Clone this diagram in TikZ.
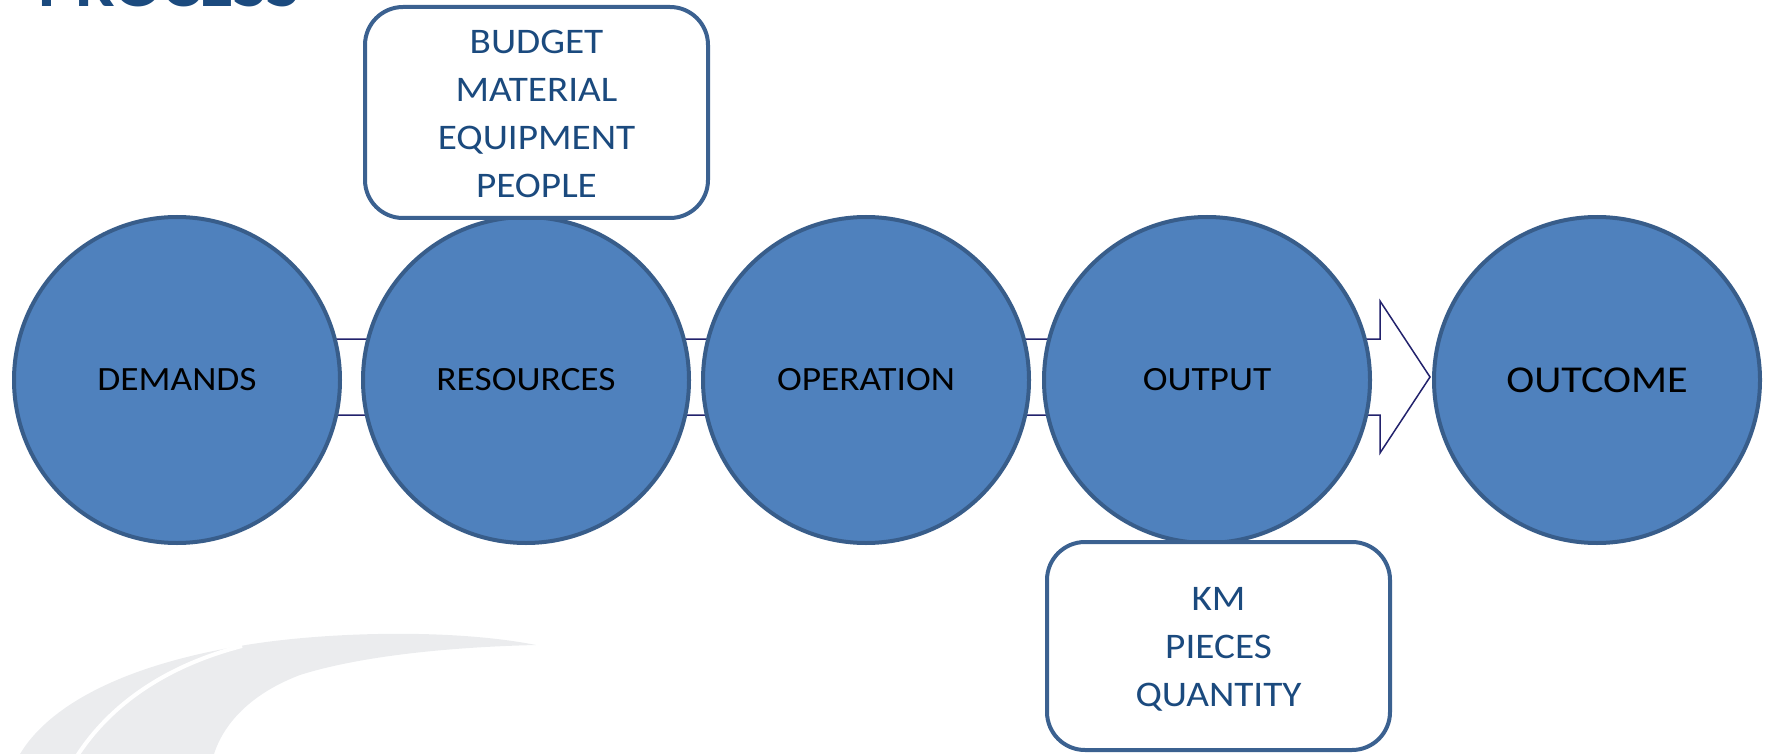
\documentclass[tikz,border=0pt]{standalone}
\usepackage{fontspec}
\setmainfont{Carlito}
\newfontfamily\circfont[FakeStretch=1.1]{Carlito}
\newfontfamily\outfont[FakeStretch=1.11]{Carlito}
\newfontfamily\boxfont[FakeStretch=1.09]{Carlito}
\newfontfamily\titlefont[FakeStretch=1.1]{Carlito}
\usetikzlibrary{backgrounds,calc}
\definecolor{circfill}{HTML}{4F81BD}
\definecolor{circline}{HTML}{385D8A}
\definecolor{boxline}{HTML}{3B6190}
\definecolor{boxtext}{HTML}{1B4A7E}
\definecolor{arrowline}{HTML}{22226C}
\definecolor{swoosh}{HTML}{EBECEE}
\begin{document}
\begin{tikzpicture}[x=1pt,y=-1pt,
  proc/.style={circle, draw=circline, line width=4pt, fill=circfill,
    minimum size=326pt, inner sep=0pt, text=black,
    font=\circfont\fontsize{34}{40}\selectfont},
  infobox/.style={rectangle, rounded corners=38pt, draw=boxline, line width=4pt,
    fill=white, minimum width=343pt, minimum height=211pt, inner sep=0pt},
  boxlabel/.style={inner sep=0pt, align=center, text=boxtext,
    font=\boxfont\fontsize{36}{48}\selectfont},
  blockarrow/.style={draw=arrowline, line width=1.5pt, fill=white, line join=miter},
  swooshfill/.style={fill=swoosh, draw=none}]
\useasboundingbox (0,0) rectangle (1769,754);
\clip (0,0) rectangle (1769,754);

\node[anchor=base west, inner sep=0pt, text=boxtext,
  font=\titlefont\bfseries\fontsize{64}{70}\selectfont] (title) at (38,7) {PROCESS};

\node[proc] (dem)  at (177,380)  {DEMANDS};
\node[proc] (res)  at (526,380)  {RESOURCES};
\node[proc] (ope)  at (866,380)  {OPERATION};
\node[proc] (outp) at (1207,380) {OUTPUT};
\node[proc, font=\outfont\fontsize{38}{46}\selectfont] (outc) at (1597,380) {OUTCOME};

\node[infobox] (inputs) at (536.5,112.5) {};
\node[boxlabel] (inputstext) at ($(inputs.center)+(0,1.5)$) {BUDGET\\MATERIAL\\EQUIPMENT\\PEOPLE};
\node[infobox, minimum height=208pt] (measures) at (1218.5,646) {};
\node[boxlabel] (measurestext) at ($(measures.center)+(0,3.5)$) {KM\\PIECES\\QUANTITY};

\begin{scope}[on background layer]
  \fill[swooshfill] (20,754) .. controls (45,712) and (110,668) .. (240,646)
     .. controls (320,632) and (450,628) .. (536,645)
     .. controls (450,647) and (360,656) .. (300,675)
     .. controls (255,692) and (225,720) .. (214,754) -- cycle;
  \draw[white, line width=4pt] (77,756) .. controls (110,705) and (165,666) .. (242,646);
  \coordinate (tip) at ($(outc.west)+(-2,-3)$);
  \draw[blockarrow] ($(dem.center)+(0,-41)$) -- ($(tip)+(-50,-38)$)
     -- ($(tip)+(-50,-76)$) -- (tip) -- ($(tip)+(-50,76)$)
     -- ($(tip)+(-50,38)$) -- ($(dem.center)+(0,35)$) -- cycle;
\end{scope}
\end{tikzpicture}
\end{document}
